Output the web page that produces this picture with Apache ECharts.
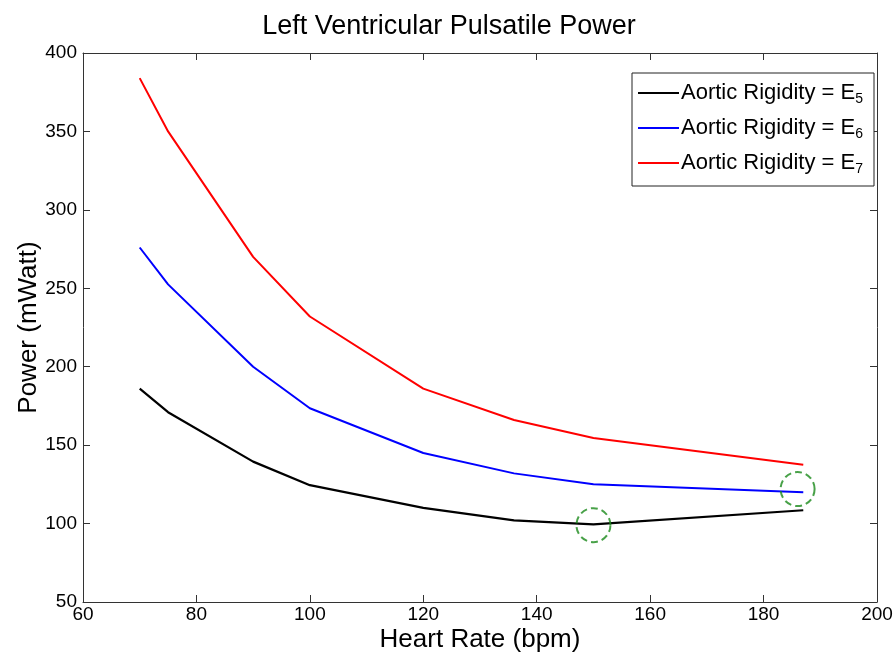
<!DOCTYPE html>
<html>
<head>
<meta charset="utf-8">
<script src="https://cdn.jsdelivr.net/npm/echarts@6/dist/echarts.min.js"></script>
<style>html,body{margin:0;padding:0;background:#fff;}#c{width:896px;height:654px;}</style>
</head>
<body>
<div id="c"></div>
<script>
const heartRate = [70, 75, 90, 100, 120, 136, 150, 187];
const powerE5 = [186, 171, 139.5, 124.5, 110, 102, 99.5, 108.5];
const powerE6 = [276, 252.5, 200, 173.5, 145, 132, 125, 120];
const powerE7 = [384, 350, 270, 232, 186, 166, 154.5, 137.5];
const markedPoints = [[150, 99], [186, 122]];
const seriesNames = ['E5', 'E6', 'E7'];
const xTicks = [60, 80, 100, 120, 140, 160, 180, 200];
const yTicks = [50, 100, 150, 200, 250, 300, 350, 400];

const font = 'Liberation Sans, Arial, sans-serif';
const chart = echarts.init(document.getElementById('c'), null, {renderer: 'canvas'});
const pair = (ys) => heartRate.map((x, i) => [x, ys[i]]);
const subIdx = {E5: '5', E6: '6', E7: '7'};

const axisCommon = {
  type: 'value',
  axisLine: {show: true, onZero: false, lineStyle: {color: '#333', width: 1}},
  axisTick: {show: true, inside: true, length: 7, lineStyle: {color: '#333'}},
  splitLine: {show: false}
};

chart.setOption({
  backgroundColor: '#fff',
  animation: false,
  title: {
    text: 'Left Ventricular Pulsatile Power',
    left: 444, top: 8, textAlign: 'center',
    textStyle: {fontFamily: font, fontSize: 27, fontWeight: 'normal', color: '#000'}
  },
  grid: {left: 83, right: 19, top: 53, bottom: 52, show: false, containLabel: false, outerBoundsMode: 'none'},
  legend: {
    orient: 'vertical',
    left: 632, top: 73,
    padding: [7, 11, 10, 6],
    itemGap: 9,
    itemWidth: 41, itemHeight: 2,
    icon: 'rect',
    backgroundColor: '#fff',
    borderColor: '#222', borderWidth: 1,
    data: seriesNames,
    formatter: (n) => 'Aortic Rigidity = E{sub|' + subIdx[n] + '}',
    textStyle: {
      fontFamily: font, fontSize: 22, color: '#000', padding: [0, 0, 0, -3], lineHeight: 26,
      rich: {sub: {fontFamily: font, fontSize: 14, color: '#000', verticalAlign: 'bottom', lineHeight: 26, padding: [12, 0, 0, 0]}}
    }
  },
  xAxis: [
    Object.assign({}, axisCommon, {
      position: 'bottom', min: 60, max: 200, interval: 20,
      name: 'Heart Rate (bpm)', nameLocation: 'middle', nameGap: 25, nameMoveOverlap: false,
      nameTextStyle: {fontFamily: font, fontSize: 26, color: '#000'},
      axisLabel: {fontFamily: font, fontSize: 19, color: '#000', margin: 3,
        formatter: (v) => xTicks.includes(v) ? String(v) : ''}
    }),
    Object.assign({}, axisCommon, {
      position: 'top', min: 60, max: 200, interval: 20,
      axisLabel: {show: false}
    })
  ],
  yAxis: [
    Object.assign({}, axisCommon, {
      position: 'left', min: 50, max: 400, interval: 50,
      name: 'Power (mWatt)', nameLocation: 'middle', nameGap: 41, nameMoveOverlap: false,
      nameTextStyle: {fontFamily: font, fontSize: 26, color: '#000'},
      axisLabel: {fontFamily: font, fontSize: 19, color: '#000', margin: 6,
        formatter: (v) => yTicks.includes(v) ? String(v) : ''}
    }),
    Object.assign({}, axisCommon, {
      position: 'right', min: 50, max: 400, interval: 50,
      axisLabel: {show: false}
    })
  ],
  series: [
    {name: 'E5', type: 'line', data: pair(powerE5), symbol: 'none', color: '#000',
      lineStyle: {color: '#000', width: 2.2}, z: 3},
    {name: 'E6', type: 'line', data: pair(powerE6), symbol: 'none', color: '#0000ff',
      lineStyle: {color: '#0000ff', width: 2}, z: 3},
    {name: 'E7', type: 'line', data: pair(powerE7), symbol: 'none', color: '#ff0000',
      lineStyle: {color: '#ff0000', width: 2}, z: 3},
    {name: 'marks', type: 'scatter', data: markedPoints, symbol: 'circle', symbolSize: 34,
      itemStyle: {color: 'rgba(0,0,0,0)', borderColor: '#1a8a1a', borderWidth: 2, borderType: [7, 4]},
      z: 4}
  ]
});
</script>
</body>
</html>
